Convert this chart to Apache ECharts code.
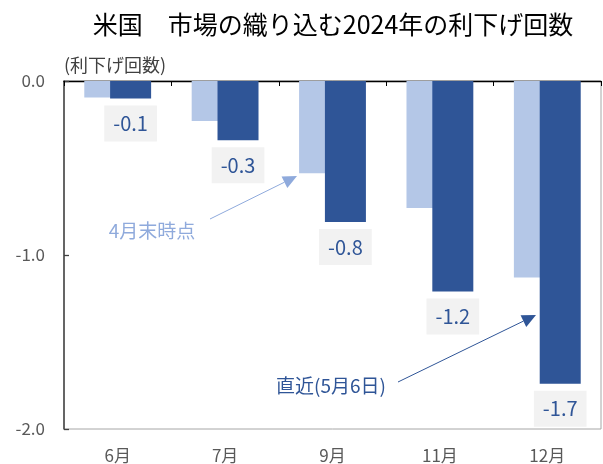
<!DOCTYPE html>
<html>
<head>
<meta charset="utf-8">
<script src="https://cdn.jsdelivr.net/npm/echarts@6/dist/echarts.min.js"></script>
<style>
html,body{margin:0;padding:0;background:#fff;}
#myChart{width:603px;height:464px;}
</style>
</head>
<body>
<div id="myChart"></div>
<script>
// データ
var months = ['6月', '7月', '9月', '11月', '12月'];
var aprilEnd = [-0.095, -0.23, -0.53, -0.73, -1.13];   // 4月末時点
var latest = [-0.10, -0.34, -0.81, -1.21, -1.74];      // 直近(5月6日)
var yTicks = [-2, -1, 0];

var FONT = '"Noto Sans CJK JP", "Noto Sans", sans-serif';
var LIGHT = '#B4C7E7';
var DARK = '#2F5597';
var LIGHT_TXT = '#8FAADC';

function arrow(x1, y1, x2, y2, color) {
  // 矢印（線 + 三角）
  var dx = x2 - x1, dy = y2 - y1;
  var len = Math.sqrt(dx * dx + dy * dy);
  var ux = dx / len, uy = dy / len;
  var hl = 14, hw = 6.5;
  var bx = x2 - ux * hl, by = y2 - uy * hl;
  return [
    { type: 'line', shape: { x1: x1, y1: y1, x2: bx, y2: by }, style: { stroke: color, lineWidth: 1 } },
    { type: 'polygon', shape: { points: [[x2, y2], [bx + uy * hw, by - ux * hw], [bx - uy * hw, by + ux * hw]] }, style: { fill: color } }
  ];
}

var option = {
  animation: false,
  textStyle: { fontFamily: FONT },
  title: {
    text: '米国\u3000市場の織り込む2024年の利下げ回数',
    left: 328, top: 7, textAlign: 'center',
    textStyle: { fontFamily: FONT, fontSize: 25, fontWeight: 'normal', color: '#000' }
  },
  grid: {
    left: 64, right: 2, top: 81, bottom: 34,
    show: true, borderColor: '#a6a6a6', borderWidth: 1
  },
  xAxis: [
    {
      type: 'category', data: months, position: 'bottom',
      axisLine: { show: false }, axisTick: { show: false },
      axisLabel: { color: '#595959', fontSize: 17, margin: 18, fontFamily: FONT }
    },
    {
      type: 'category', data: months, position: 'top',
      axisLine: { show: true, lineStyle: { color: '#000', width: 1.3 } },
      axisTick: { show: true, inside: true, length: 5, lineStyle: { color: '#000' } },
      axisLabel: { show: false }
    }
  ],
  yAxis: {
    type: 'value', min: yTicks[0], max: yTicks[yTicks.length - 1], interval: 1,
    name: '(利下げ回数)', nameLocation: 'end', nameGap: 7,
    nameTextStyle: { align: 'left', verticalAlign: 'bottom', color: '#404040', fontSize: 18, fontFamily: FONT, padding: [0, 0, 0, 0] },
    axisLine: { show: true, lineStyle: { color: '#404040', width: 1.5 } },
    axisTick: { show: true, inside: true, length: 5, lineStyle: { color: '#404040', width: 1.3 } },
    splitLine: { show: false },
    axisLabel: {
      color: '#595959', fontSize: 17, margin: 19, fontFamily: FONT,
      formatter: function (v) { return v.toFixed(1); }
    }
  },
  series: [
    {
      name: '4月末時点', type: 'bar', data: aprilEnd,
      barWidth: 41, barGap: '-37%',
      itemStyle: { color: LIGHT }
    },
    {
      name: '直近(5月6日)', type: 'bar', data: latest,
      barWidth: 41,
      itemStyle: { color: DARK },
      label: {
        show: true, position: 'bottom', distance: 7,
        color: DARK, fontSize: 20, fontFamily: FONT, lineHeight: 20,
        backgroundColor: '#f2f2f2', padding: [8, 9, 8, 9],
        formatter: function (p) { return p.value.toFixed(1); }
      }
    }
  ],
  graphic: [].concat(
    arrow(210, 219, 297, 176, LIGHT_TXT),
    arrow(398, 382, 536, 315, DARK),
    [
      { type: 'text', x: 152, y: 231, style: { text: '4月末時点', fill: LIGHT_TXT, font: '19px ' + FONT, align: 'center', verticalAlign: 'middle' } },
      { type: 'text', x: 331, y: 386, style: { text: '直近(5月6日)', fill: DARK, font: '19px ' + FONT, align: 'center', verticalAlign: 'middle' } }
    ]
  )
};

var myChart = echarts.init(document.getElementById('myChart'));
myChart.setOption(option);
</script>
</body>
</html>
